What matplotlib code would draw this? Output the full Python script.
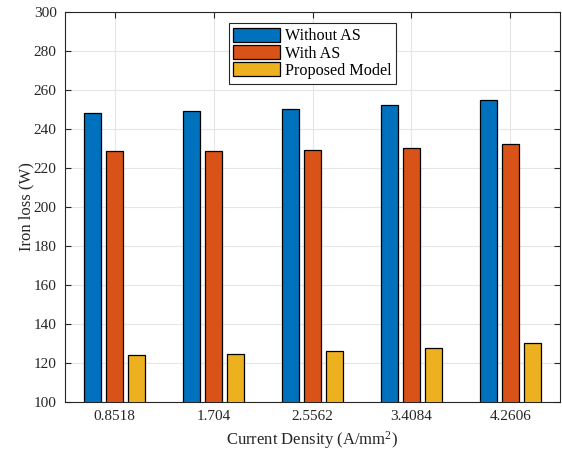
import matplotlib
matplotlib.use("Agg")
import matplotlib.pyplot as plt
import numpy as np

plt.rcParams['font.family'] = ['Liberation Serif', 'DejaVu Serif']
plt.rcParams['mathtext.fontset'] = 'custom'
plt.rcParams['mathtext.rm'] = 'Liberation Serif'
plt.rcParams['mathtext.it'] = 'Liberation Serif:italic'

# data
densities = ['0.8518', '1.704', '2.5562', '3.4084', '4.2606']
without_as = [248.1, 249.0, 250.3, 252.3, 255.1]
with_as = [228.9, 228.7, 229.3, 230.4, 232.5]
proposed = [124.2, 124.8, 126.1, 127.8, 130.5]
series_names = ['Without AS', 'With AS', 'Proposed Model']
colors = ['#0072BD', '#D95319', '#EDB120']

fig = plt.figure(figsize=(5.62, 4.55), dpi=100)
ax = fig.add_axes([0.1157, 0.1165, 0.8807, 0.857])

x = np.arange(1, len(densities) + 1)
offset = 0.222
width = 0.18
for i, (vals, name, c) in enumerate(zip([without_as, with_as, proposed], series_names, colors)):
    ax.bar(x + (i - 1) * offset, vals, width, color=c, edgecolor='black',
           linewidth=0.9, label=name, zorder=3)

ax.set_xlim(0.5, 5.5)
ax.set_ylim(100, 300)
ax.set_yticks(np.arange(100, 301, 20))
ax.set_xticks(x)
ax.set_xticklabels(densities)

dark = '#262626'
ax.grid(True, color='#e6e6e6', linewidth=0.8, zorder=0)
ax.set_axisbelow(True)
for s in ax.spines.values():
    s.set_color(dark)
    s.set_linewidth(0.8)
ax.tick_params(direction='in', top=True, right=True, length=4, width=0.8,
               colors=dark, labelsize=11, pad=6)
for lab in ax.get_xticklabels() + ax.get_yticklabels():
    lab.set_color(dark)

ax.set_ylabel('Iron loss (W)', fontsize=12, color=dark)
ax.yaxis.set_label_coords(-0.061, 0.5)
ax.set_xlabel(r'Current Density (A/mm$^2$)', fontsize=12, color=dark, labelpad=4)

leg = ax.legend(loc='upper center', bbox_to_anchor=(0.5, 0.972), fontsize=11.6,
                fancybox=False, framealpha=1, edgecolor=dark,
                handlelength=2.9, handleheight=0.95, handletextpad=0.3,
                labelspacing=0.05, borderpad=0.3, borderaxespad=0)
leg.get_frame().set_linewidth(0.8)

fig.savefig('out.png', dpi=100)
